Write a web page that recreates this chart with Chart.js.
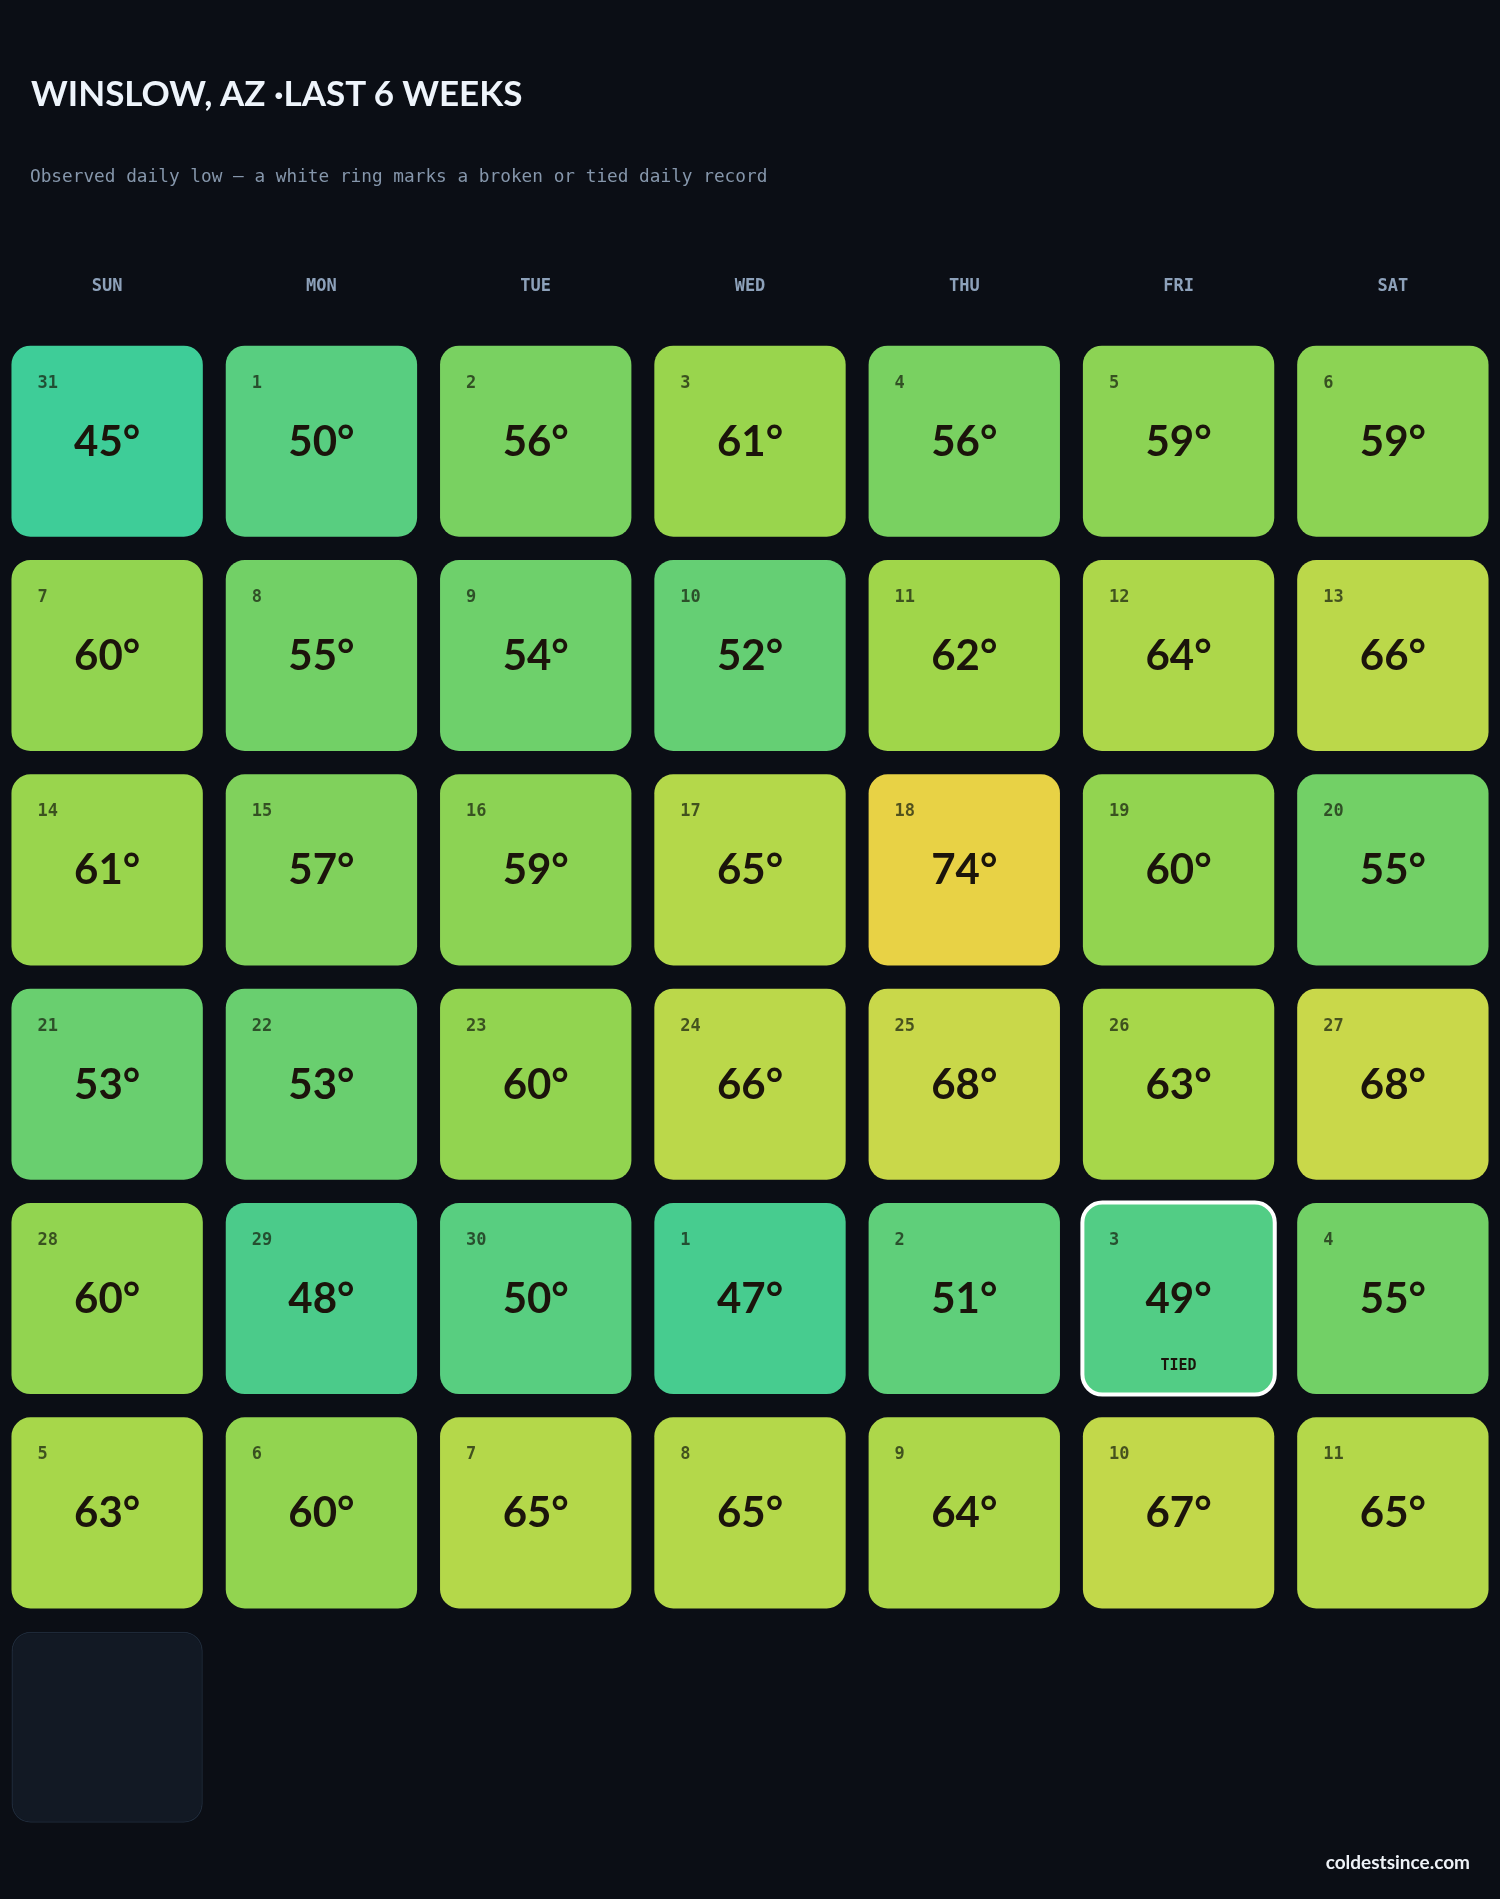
<!DOCTYPE html>
<html>
<head>
<meta charset="utf-8">
<script src="https://cdn.jsdelivr.net/npm/chart.js@4.4.1/dist/chart.umd.min.js"></script>
<style>
  html, body { margin:0; padding:0; background:#0b0e15; }
  #wrap { position:relative; width:1500px; height:1899px; overflow:hidden; background:#0b0e15; }
  #chart { position:absolute; left:0; top:0; }
  .title { position:absolute; left:31px; top:68px; margin:0; font-family:'Lato','Noto Sans',sans-serif; font-weight:700; font-size:35px; line-height:48px; color:#eef4fb; letter-spacing:0px; white-space:nowrap; }
  .subtitle { position:absolute; left:30px; top:163px; margin:0; font-family:'DejaVu Sans Mono',monospace; font-size:17.75px; line-height:26px; color:#8596ab; white-space:nowrap; }
  .footer { position:absolute; right:30px; top:1850px; margin:0; font-family:'Lato','Noto Sans',sans-serif; font-weight:700; font-size:19px; line-height:24px; color:#eef2f7; white-space:nowrap; }
</style>
</head>
<body>
<div id="wrap">
  <canvas id="chart" width="1500" height="1899"></canvas>
  <h1 class="title">WINSLOW, AZ ·LAST 6 WEEKS</h1>
  <p class="subtitle">Observed daily low — a white ring marks a broken or tied daily record</p>
  <p class="footer">coldestsince.com</p>
</div>
<script>
// ---- data ----
const dayLabels = ['SUN', 'MON', 'TUE', 'WED', 'THU', 'FRI', 'SAT'];
const week0Dates = [31, 1, 2, 3, 4, 5, 6];
const week1Dates = [7, 8, 9, 10, 11, 12, 13];
const week2Dates = [14, 15, 16, 17, 18, 19, 20];
const week3Dates = [21, 22, 23, 24, 25, 26, 27];
const week4Dates = [28, 29, 30, 1, 2, 3, 4];
const week5Dates = [5, 6, 7, 8, 9, 10, 11];
const week6Dates = [null];
const week0Lows = [45, 50, 56, 61, 56, 59, 59];
const week1Lows = [60, 55, 54, 52, 62, 64, 66];
const week2Lows = [61, 57, 59, 65, 74, 60, 55];
const week3Lows = [53, 53, 60, 66, 68, 63, 68];
const week4Lows = [60, 48, 50, 47, 51, 49, 55];
const week5Lows = [63, 60, 65, 65, 64, 67, 65];
const week6Lows = [null];
const blankCells = [[6, 0]];            // [week, day] placeholder squares
const recordCells = [[4, 5, 'TIED']];    // [week, day, label]

const weekDates = [week0Dates, week1Dates, week2Dates, week3Dates, week4Dates, week5Dates, week6Dates];
const weekLows = [week0Lows, week1Lows, week2Lows, week3Lows, week4Lows, week5Lows, week6Lows];

// ---- colour scale (temperature -> fill) ----
const colorStops = [
  [45, [62, 205, 152]],
  [48, [75, 203, 138]],
  [50, [88, 206, 128]],
  [52, [101, 207, 116]],
  [55, [114, 208, 102]],
  [57, [128, 209, 92]],
  [60, [146, 212, 80]],
  [62, [160, 214, 74]],
  [65, [180, 216, 74]],
  [68, [201, 216, 74]],
  [74, [232, 210, 69]]
];
function tempColor(t) {
  if (t <= colorStops[0][0]) return 'rgb(' + colorStops[0][1].join(',') + ')';
  for (let i = 1; i < colorStops.length; i++) {
    const [t1, c1] = colorStops[i];
    const [t0, c0] = colorStops[i - 1];
    if (t <= t1) {
      const f = (t - t0) / (t1 - t0);
      const c = c0.map((v, k) => Math.round(v + (c1[k] - v) * f));
      return 'rgb(' + c.join(',') + ')';
    }
  }
  return 'rgb(' + colorStops[colorStops.length - 1][1].join(',') + ')';
}
const isBlank = (w, d) => blankCells.some(([bw, bd]) => bw === w && bd === d);
const recordOf = (w, d) => recordCells.find(([rw, rd]) => rw === w && rd === d);

const HALF = 0.4457;
const datasets = weekLows.map((lows, w) => {
  const data = dayLabels.map((_, d) => {
    if (lows[d] != null || isBlank(w, d)) return [w - HALF, w + HALF];
    return null;
  });
  return {
    label: 'Week ' + (w + 1),
    data: data,
    backgroundColor: dayLabels.map((_, d) => isBlank(w, d) ? '#121924' : (lows[d] != null ? tempColor(lows[d]) : 'transparent')),
    borderColor: dayLabels.map((_, d) => isBlank(w, d) ? '#1e2938' : 'rgba(0,0,0,0)'),
    borderWidth: dayLabels.map((_, d) => isBlank(w, d) ? 1.5 : 0),
    borderRadius: 19,
    borderSkipped: false,
    barPercentage: 0.893,
    categoryPercentage: 1.0,
    grouped: false
  };
});

function roundRect(ctx, x, y, w, h, r) {
  ctx.beginPath();
  ctx.moveTo(x + r, y);
  ctx.lineTo(x + w - r, y);
  ctx.arcTo(x + w, y, x + w, y + r, r);
  ctx.lineTo(x + w, y + h - r);
  ctx.arcTo(x + w, y + h, x + w - r, y + h, r);
  ctx.lineTo(x + r, y + h);
  ctx.arcTo(x, y + h, x, y + h - r, r);
  ctx.lineTo(x, y + r);
  ctx.arcTo(x, y, x + r, y, r);
  ctx.closePath();
}

const cellText = {
  id: 'cellText',
  afterDatasetsDraw(chart) {
    const ctx = chart.ctx;
    chart.data.datasets.forEach((ds, w) => {
      const meta = chart.getDatasetMeta(w);
      meta.data.forEach((bar, d) => {
        const lows = weekLows[w];
        if (lows[d] == null) return;
        const p = bar.getProps(['x', 'y', 'base', 'width'], true);
        const left = p.x - p.width / 2;
        const top = Math.min(p.y, p.base);
        const h = Math.abs(p.base - p.y);
        ctx.save();
        const rec = recordOf(w, d);
        if (rec) {
          ctx.strokeStyle = '#ffffff';
          ctx.lineWidth = 4;
          roundRect(ctx, left - 0.5, top - 0.5, p.width + 1, h + 1, 20);
          ctx.stroke();
        }
        // date label
        ctx.fillStyle = 'rgba(22,30,14,0.72)';
        ctx.font = 'bold 17px "DejaVu Sans Mono", monospace';
        ctx.textAlign = 'left';
        ctx.textBaseline = 'alphabetic';
        ctx.fillText(String(weekDates[w][d]), left + 26, top + 42);
        // value
        ctx.fillStyle = '#1b140b';
        ctx.font = '700 42px "Lato", "Noto Sans", sans-serif';
        ctx.textAlign = 'center';
        ctx.fillText(lows[d] + '°', p.x, top + 110);
        if (rec) {
          ctx.font = 'bold 15px "DejaVu Sans Mono", monospace';
          ctx.fillStyle = '#1b140b';
          ctx.fillText(rec[2], p.x, top + 167);
        }
        ctx.restore();
      });
    });
  }
};

new Chart(document.getElementById('chart'), {
  type: 'bar',
  data: { labels: dayLabels, datasets: datasets },
  options: {
    responsive: false,
    animation: false,
    devicePixelRatio: 1,
    layout: { padding: { left: 0, right: 0, top: 250, bottom: 64.6 } },
    plugins: { legend: { display: false }, tooltip: { enabled: false }, title: { display: false } },
    scales: {
      x: {
        type: 'category',
        position: 'top',
        offset: true,
        grid: { display: false, drawTicks: false },
        border: { display: false },
        ticks: { color: '#8da1ba', font: { family: 'DejaVu Sans Mono', size: 17, weight: 'bold' }, padding: 37 },
        afterFit(scale) { scale.height = 84; }
      },
      y: {
        type: 'linear',
        display: false,
        reverse: true,
        min: -0.5,
        max: 6.5
      }
    }
  },
  plugins: [cellText]
});
</script>
</body>
</html>
